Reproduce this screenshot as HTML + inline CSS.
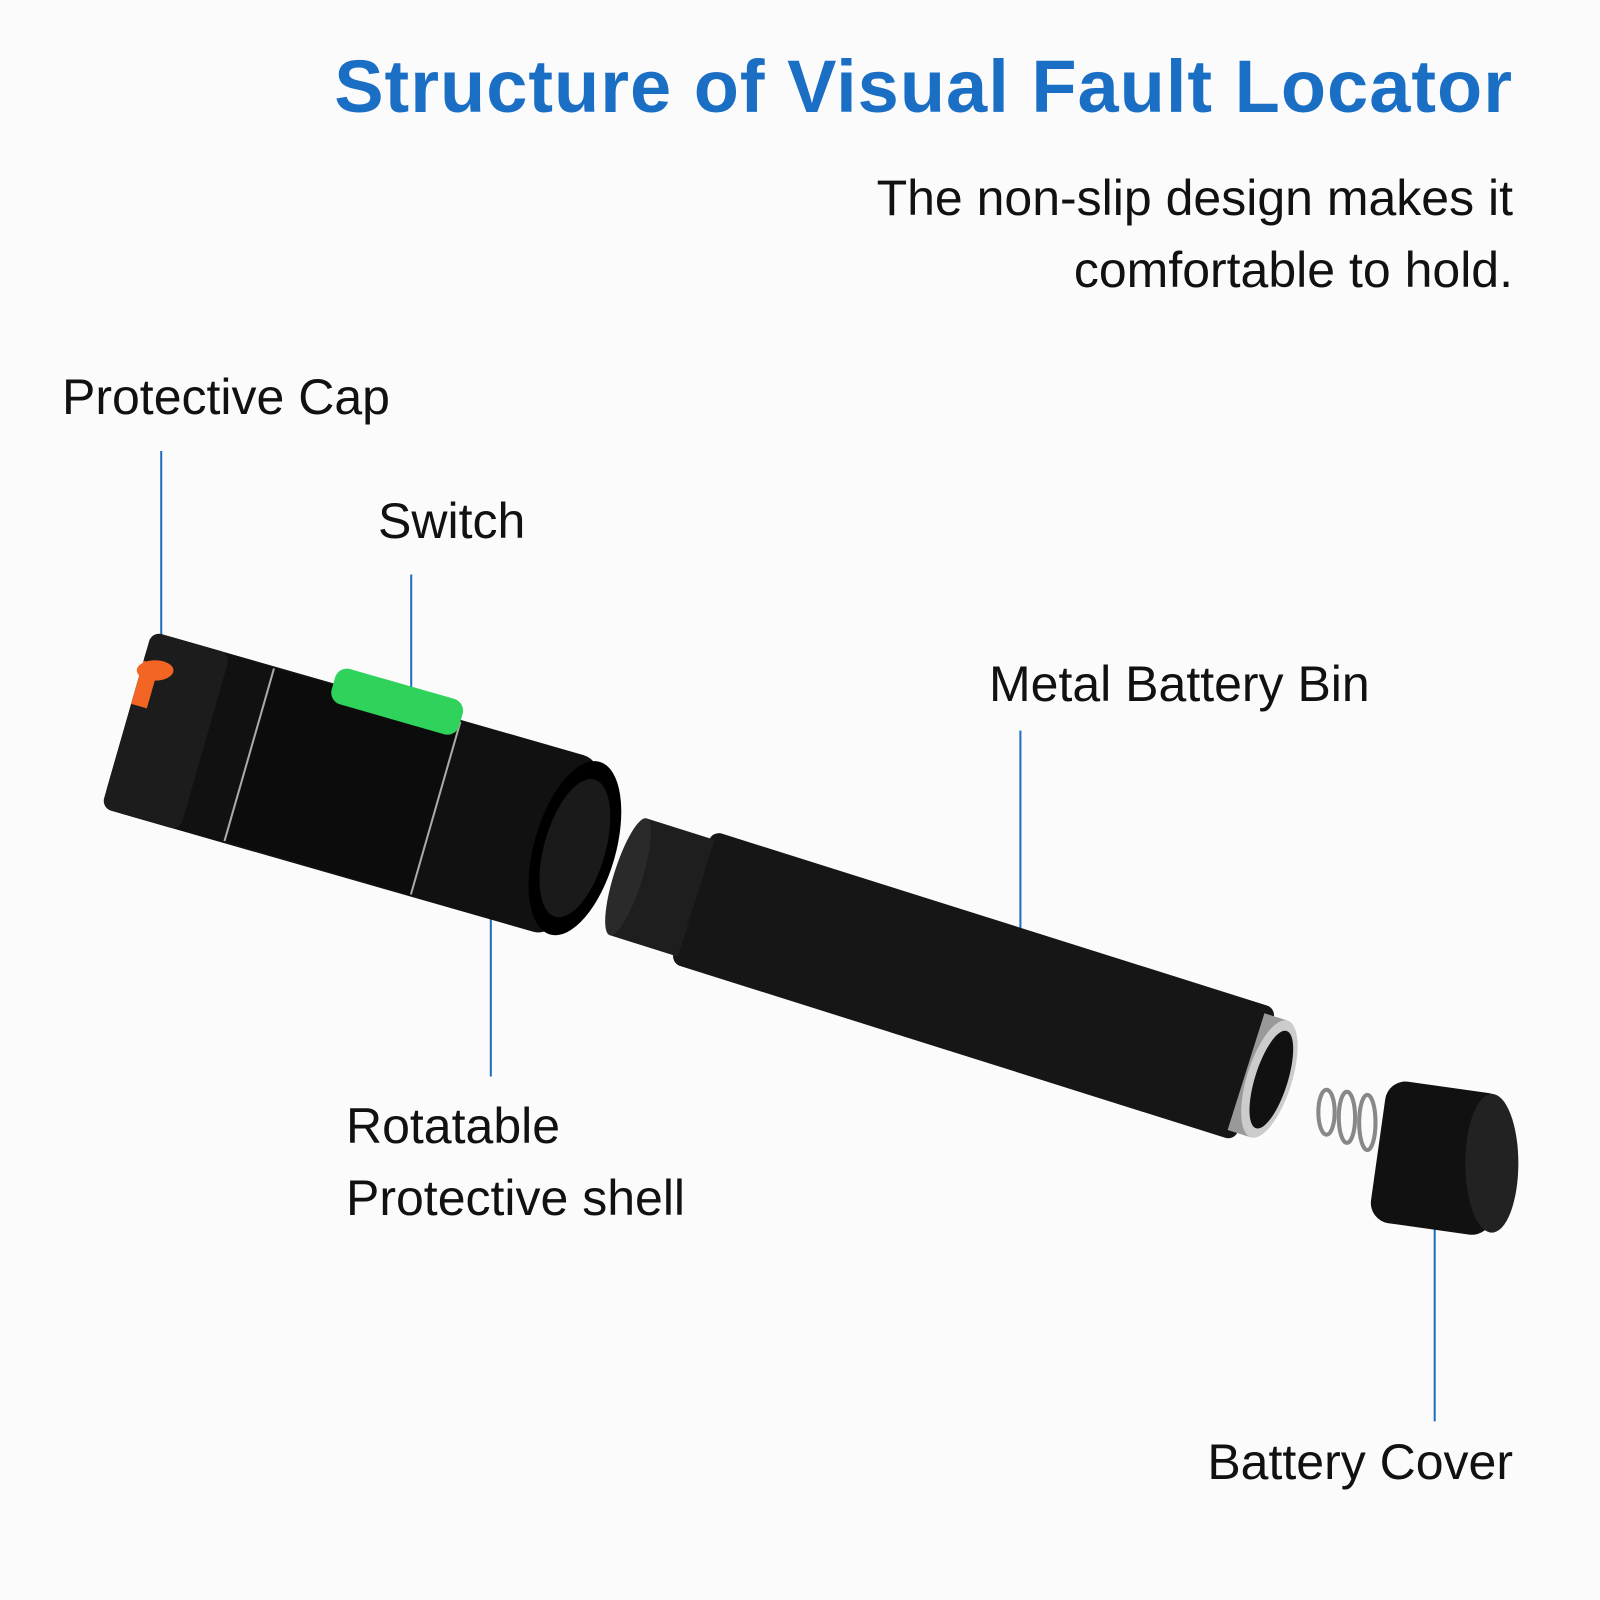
<!DOCTYPE html>
<html><head><meta charset="utf-8"><style>
html,body{margin:0;padding:0;background:#fff;}
#c{position:relative;width:1600px;height:1600px;background:#fbfbfc;overflow:hidden;font-family:"Liberation Sans",Arial,sans-serif;}
.t{position:absolute;white-space:nowrap;color:#111;}
</style></head><body><div id="c">
<svg width="1600" height="1600" style="position:absolute;left:0;top:0">
<g transform="scale(1.0204)">
<g stroke="#1f6fc0" stroke-width="2">
<line x1="158" y1="442" x2="158" y2="655"/>
<line x1="403" y1="563" x2="403" y2="700"/>
<line x1="481" y1="865" x2="481" y2="1055"/>
<line x1="1000" y1="716" x2="1000" y2="948"/>
<line x1="1406" y1="1172" x2="1406" y2="1393"/>
</g>
<!-- head -->
<g transform="translate(350,770) rotate(16)">
<rect x="-235" y="-90" width="460" height="180" rx="20" fill="#111"/>
<rect x="-235" y="-90" width="80" height="180" rx="10" fill="#1c1c1c"/>
<rect x="-110" y="-88" width="190" height="176" fill="#0c0c0c"/>
<line x1="-110" y1="-88" x2="-110" y2="88" stroke="#aaa" stroke-width="2"/>
<line x1="80" y1="-88" x2="80" y2="88" stroke="#aaa" stroke-width="2"/>
<ellipse cx="222" cy="0" rx="40" ry="88" fill="#000"/>
<ellipse cx="222" cy="0" rx="30" ry="70" fill="#1a1a1a"/>
<rect x="-50" y="-108" width="130" height="36" rx="12" fill="#2fd25a"/>
<rect x="-235" y="-60" width="16" height="44" fill="#f26522"/>
</g>
<ellipse cx="152" cy="657" rx="18" ry="10" fill="#f26522"/>
<!-- battery bin -->
<g transform="translate(935,960) rotate(17.5)">
<rect x="-270" y="-68" width="580" height="136" rx="10" fill="#161616"/>
<rect x="-335" y="-60" width="70" height="120" fill="#1e1e1e"/>
<ellipse cx="-335" cy="0" rx="14" ry="60" fill="#2a2a2a"/>
<rect x="300" y="-60" width="24" height="120" fill="#999"/>
<ellipse cx="324" cy="0" rx="22" ry="60" fill="#ccc"/>
<ellipse cx="326" cy="0" rx="16" ry="50" fill="#111"/>
</g>
<g stroke="#888" stroke-width="4" fill="none">
<ellipse cx="1300" cy="1090" rx="8" ry="22"/>
<ellipse cx="1320" cy="1095" rx="8" ry="25"/>
<ellipse cx="1340" cy="1100" rx="8" ry="27"/>
</g>
<rect x="1350" y="1065" width="120" height="140" rx="20" fill="#111" transform="rotate(8 1410 1135)"/>
<ellipse cx="1462" cy="1140" rx="26" ry="68" fill="#222"/>
</g>
</svg>
<div class="t" style="right:87px;top:44px;font-size:74px;font-weight:bold;color:#1a6fc4;letter-spacing:1px">Structure of Visual Fault Locator</div>
<div class="t" style="right:87px;top:162px;font-size:50px;text-align:right;line-height:72px">The non-slip design makes it<br>comfortable to hold.</div>
<div class="t" style="left:62px;top:368px;font-size:50px">Protective Cap</div>
<div class="t" style="left:378px;top:492px;font-size:50px">Switch</div>
<div class="t" style="left:989px;top:655px;font-size:50px">Metal Battery Bin</div>
<div class="t" style="left:346px;top:1090px;font-size:50px;line-height:72px">Rotatable<br>Protective shell</div>
<div class="t" style="right:87px;top:1433px;font-size:50px">Battery Cover</div>
</div></body></html>
